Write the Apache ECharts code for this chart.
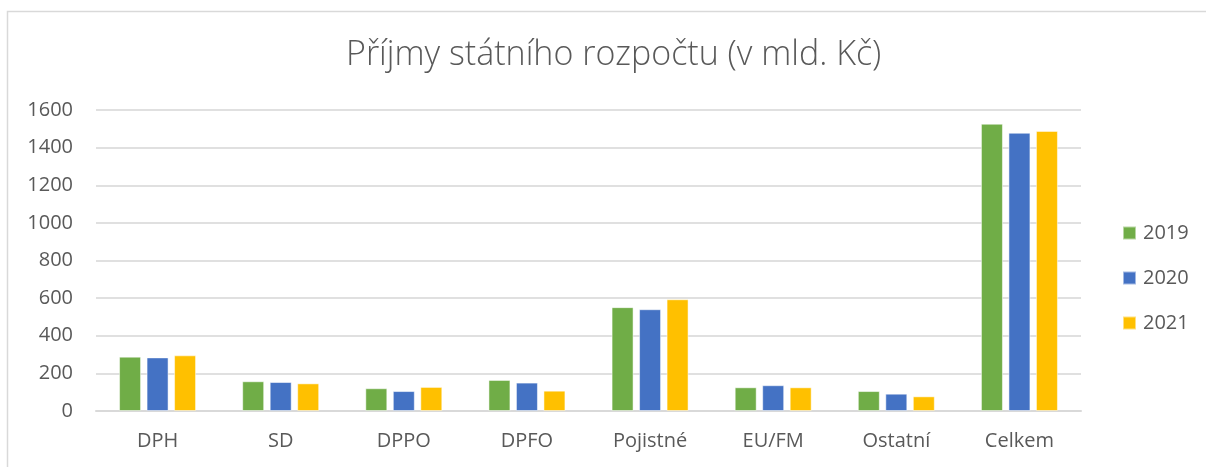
<!DOCTYPE html>
<html>
<head>
<meta charset="utf-8">
<script src="https://cdn.jsdelivr.net/npm/echarts@6/dist/echarts.min.js"></script>
<style>
html,body{margin:0;padding:0;background:#fff;}
#c{width:1206px;height:467px;}
</style>
</head>
<body>
<div id="c"></div>
<script>
const categories = ['DPH', 'SD', 'DPPO', 'DPFO', 'Pojistné', 'EU/FM', 'Ostatní', 'Celkem'];
const years = ['2019', '2020', '2021'];
const values2019 = [289, 158, 121, 165, 552, 126, 106, 1527];
const values2020 = [285, 154, 106, 151, 541, 137, 92, 1479];
const values2021 = [296, 147, 128, 108, 594, 126, 78, 1489];
const yTicks = [0, 200, 400, 600, 800, 1000, 1200, 1400, 1600];
const colors = ['#70AD47', '#4472C4', '#FFC000'];
const seriesValues = [values2019, values2020, values2021];

const chart = echarts.init(document.getElementById('c'));
const font = '"Open Sans", "Noto Sans", sans-serif';
chart.setOption({
  animation: false,
  textStyle: { fontFamily: font },
  graphic: [{
    type: 'rect',
    shape: { x: 7.5, y: 11.5, width: 1400, height: 700 },
    style: { fill: 'none', stroke: '#d9d9d9', lineWidth: 1.5 },
    silent: true
  }],
  title: {
    text: 'Příjmy státního rozpočtu (v mld. Kč)',
    left: 341,
    top: 33,
    textStyle: { fontFamily: font, fontWeight: 300, fontSize: 34, color: '#595959' }
  },
  legend: {
    data: years,
    orient: 'vertical',
    left: 1117,
    top: 218,
    itemWidth: 13,
    itemHeight: 13,
    itemGap: 25,
    icon: 'rect',
    textStyle: { fontFamily: font, fontSize: 20, color: '#595959', lineHeight: 20, padding: [0, 0, 0, 2] }
  },
  grid: { left: 96, right: 125, top: 110, bottom: 56, containLabel: false },
  xAxis: {
    type: 'category',
    data: categories,
    axisLine: { lineStyle: { color: '#d9d9d9', width: 2 } },
    axisTick: { show: false },
    axisLabel: { fontFamily: font, fontSize: 20, color: '#595959', margin: 20 }
  },
  yAxis: {
    type: 'value',
    min: yTicks[0],
    max: yTicks[yTicks.length - 1],
    interval: yTicks[1] - yTicks[0],
    axisLine: { show: false },
    axisTick: { show: false },
    axisLabel: { fontFamily: font, fontSize: 20, color: '#595959', margin: 23, formatter: v => String(v) },
    splitLine: { lineStyle: { color: '#e0e0e0', width: 2 } }
  },
  series: years.map((y, i) => ({
    name: y,
    type: 'bar',
    data: seriesValues[i],
    barWidth: 22,
    barGap: '25%',
    itemStyle: { color: colors[i], borderColor: 'rgba(255,255,255,0.5)', borderWidth: 1 }
  }))
});
</script>
</body>
</html>
